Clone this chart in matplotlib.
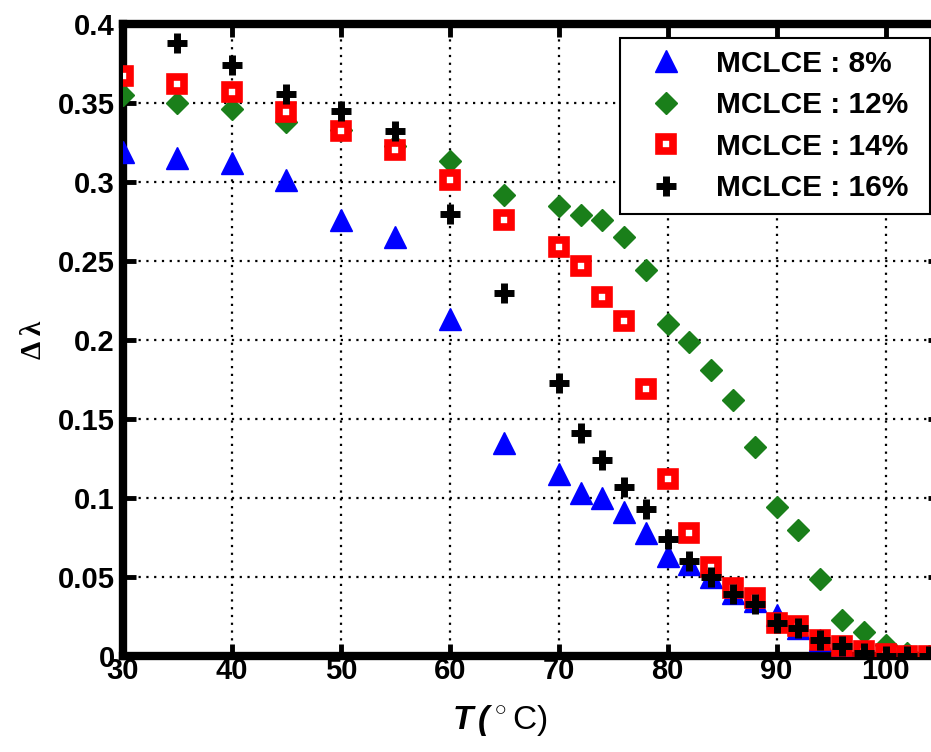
import matplotlib as mpl
mpl.use('Agg')
from matplotlib import pyplot as plt
import numpy as np

# temperatures (deg C)
T = [30, 35, 40, 45, 50, 55, 60, 65, 70, 72, 74, 76, 78, 80, 82, 84, 86, 88,
     90, 92, 94, 96, 98, 100, 102, 104]
T16 = T[1:]

dl_8 = [0.319, 0.315, 0.312, 0.301, 0.276, 0.265, 0.213, 0.135, 0.115, 0.103,
        0.100, 0.091, 0.078, 0.063, 0.058, 0.050, 0.040, 0.035, 0.026, 0.018,
        0.010, 0.005, 0.003, 0.001, 0.000, 0.000]
dl_12 = [0.355, 0.350, 0.346, 0.338, 0.333, 0.323, 0.313, 0.292, 0.285, 0.279,
         0.276, 0.265, 0.244, 0.210, 0.199, 0.181, 0.162, 0.132, 0.094, 0.080,
         0.049, 0.023, 0.015, 0.007, 0.002, 0.000]
dl_14 = [0.367, 0.362, 0.357, 0.344, 0.332, 0.320, 0.301, 0.276, 0.259, 0.247,
         0.227, 0.212, 0.169, 0.112, 0.078, 0.056, 0.043, 0.037, 0.021, 0.019,
         0.010, 0.006, 0.003, 0.001, 0.000, 0.000]
dl_16 = [0.388, 0.374, 0.356, 0.345, 0.332, 0.280, 0.230, 0.173, 0.141,
         0.124, 0.107, 0.093, 0.074, 0.060, 0.050, 0.039, 0.033, 0.021, 0.018,
         0.010, 0.006, 0.002, 0.000, 0.000, 0.000]

labels = ['MCLCE : 8%', 'MCLCE : 12%', 'MCLCE : 14%', 'MCLCE : 16%']
yticks = [0, 0.05, 0.1, 0.15, 0.2, 0.25, 0.3, 0.35, 0.4]
ytick_labels = ['0', '0.05', '0.1', '0.15', '0.2', '0.25', '0.3', '0.35', '0.4']

plt.rcParams['font.family'] = ['Liberation Sans', 'DejaVu Sans']
plt.rcParams['mathtext.fontset'] = 'custom'
plt.rcParams['mathtext.rm'] = 'Liberation Sans'
plt.rcParams['mathtext.bfit'] = 'Liberation Sans:bold:italic'

fig = plt.figure(figsize=(9.31, 7.52), dpi=100)
ax = fig.add_axes([0.1321, 0.1277, 0.8776, 0.8404])

ax.plot(T, dl_8, '^', color='#0000ff', ms=16, mec='#0000ff', label=labels[0], zorder=3)
ax.plot(T, dl_12, 'D', color='#1a7f1a', ms=11, mec='#1a7f1a', label=labels[1], zorder=3)
ax.plot(T, dl_14, 's', mfc='white', mec='#ff0000', mew=5.5, ms=10.5, label=labels[2], zorder=3)
ax.plot(T16, dl_16, '+', color='black', mew=5, ms=14, label=labels[3], zorder=4)

ax.set_xlim(30, 105)
ax.set_ylim(0, 0.4)
ax.set_xticks(np.arange(30, 101, 10))
ax.set_yticks(yticks)
ax.set_yticklabels(ytick_labels)
ax.grid(True, color='black', linestyle=(0, (1, 2.5)), linewidth=1.6)
ax.set_axisbelow(True)
ax.tick_params(direction='in', length=9, width=3.5, top=True, right=True,
               labelsize=21)
ax.tick_params(axis='x', pad=1)
ax.tick_params(axis='y', pad=6)
for lab in ax.get_xticklabels() + ax.get_yticklabels():
    lab.set_fontweight('bold')
for s in ax.spines.values():
    s.set_linewidth(6)

ax.set_xlabel(r'$\mathbfit{T}\,\mathbfit{(}\,^{\circ}\,\mathrm{C)}$', fontsize=24, labelpad=2)
ax.xaxis.set_label_coords(0.461, -0.075)
ax.set_ylabel('Δ λ', fontsize=21, family='Liberation Serif', fontweight='bold', labelpad=8)

leg = ax.legend(loc='upper left', bbox_to_anchor=(620 / 931, 1 - 38 / 752 - 0.01, 310 / 931, 0.01),
                bbox_transform=fig.transFigure, mode='expand', fancybox=False, framealpha=1,
                edgecolor='black', labelspacing=0.45, handlelength=2.3,
                handletextpad=0.5, borderaxespad=0, borderpad=0.4,
                prop={'weight': 'bold', 'size': 21.5})
leg.get_frame().set_linewidth(1.5)

plt.savefig('out.png', dpi=100)
